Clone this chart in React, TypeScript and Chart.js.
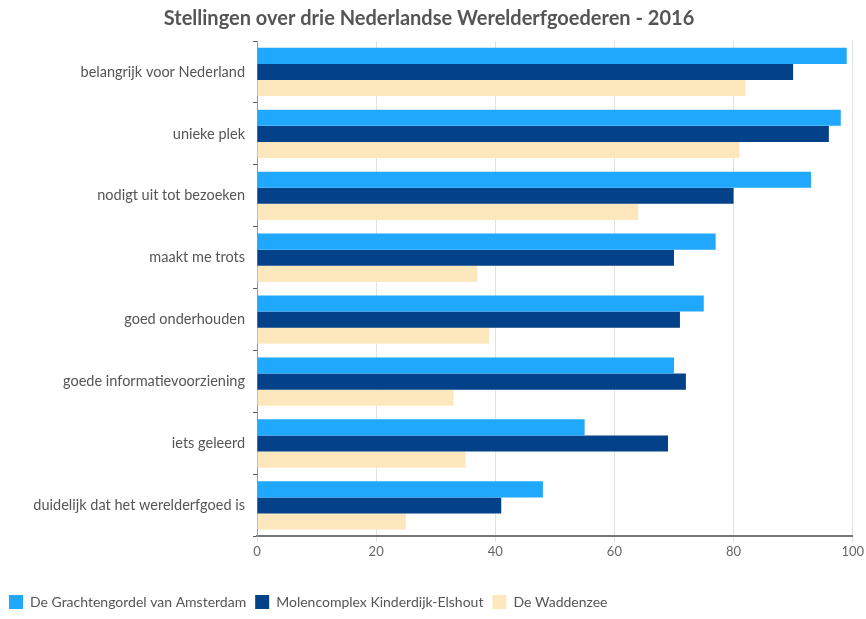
import React, { useEffect, useRef } from "react";
import { Chart, registerables } from "chart.js";

Chart.register(...registerables);

const categories = [
  "belangrijk voor Nederland",
  "unieke plek",
  "nodigt uit tot bezoeken",
  "maakt me trots",
  "goed onderhouden",
  "goede informatievoorziening",
  "iets geleerd",
  "duidelijk dat het werelderfgoed is",
];
const seriesNames = [
  "De Grachtengordel van Amsterdam",
  "Molencomplex Kinderdijk-Elshout",
  "De Waddenzee",
];
const amsterdam = [99, 98, 93, 77, 75, 70, 55, 48];
const kinderdijk = [90, 96, 80, 70, 71, 72, 69, 41];
const waddenzee = [82, 81, 64, 37, 39, 33, 35, 25];
const xTicks = [0, 20, 40, 60, 80, 100];

export default function App() {
  const ref = useRef<HTMLCanvasElement>(null);
  useEffect(() => {
    document.body.style.margin = "0";
    const ctx = ref.current!;
    const font = "Lato, 'Open Sans', sans-serif";
    const chart = new Chart(ctx, {
      type: "bar",
      data: {
        labels: categories,
        datasets: [
          { label: seriesNames[0], data: amsterdam, backgroundColor: "#1FA8FC" },
          { label: seriesNames[1], data: kinderdijk, backgroundColor: "#034189" },
          { label: seriesNames[2], data: waddenzee, backgroundColor: "#FDE8BD" },
        ],
      },
      options: {
        indexAxis: "y",
        animation: false,
        responsive: false,
        maintainAspectRatio: false,
        layout: { padding: { left: 0, right: 8, top: 1, bottom: 0 } },
        datasets: { bar: { barPercentage: 1, categoryPercentage: 0.78 } },
        plugins: {
          title: {
            display: true,
            text: "Stellingen over drie Nederlandse Werelderfgoederen - 2016",
            color: "#555555",
            font: { family: font, size: 20, weight: "bold" },
            padding: { top: 6, bottom: 10 },
          },
          legend: {
            position: "bottom",
            align: "start",
            labels: {
              boxWidth: 14,
              boxHeight: 14,
              color: "#555555",
              font: { family: font, size: 14 },
              padding: 9,
            },
          },
          tooltip: { enabled: false },
        },
        scales: {
          x: {
            min: 0,
            max: 100,
            afterBuildTicks: (axis: any) => {
              axis.ticks = xTicks.map((v) => ({ value: v }));
            },
            afterFit: (axis: any) => {
              axis.height += 24;
            },
            grid: { color: "#E2E2E2", tickLength: 6 },
            border: { color: "#777777", width: 2 },
            ticks: { color: "#666666", font: { family: font, size: 13 }, padding: 2 },
          },
          y: {
            afterFit: (axis: any) => {
              axis.width = 257;
            },
            grid: { drawOnChartArea: false, tickLength: 4, color: "#555555", offset: true },
            border: { color: "#999999", width: 1 },
            ticks: { color: "#555555", font: { family: font, size: 14.5 }, padding: 8 },
          },
        },
      },
    });
    return () => chart.destroy();
  }, []);
  return <canvas ref={ref} width={866} height={619} style={{ display: "block" }} />;
}
